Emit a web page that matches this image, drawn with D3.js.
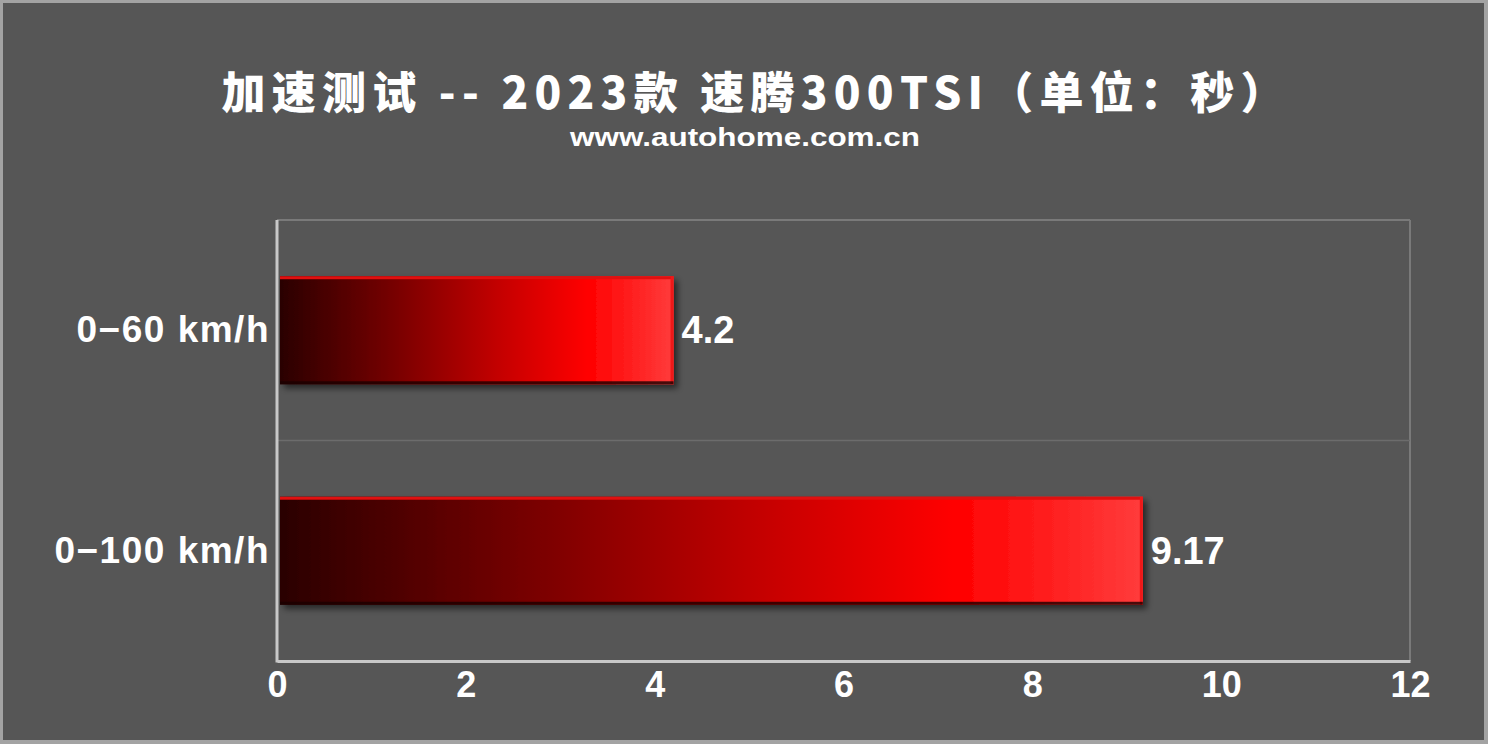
<!DOCTYPE html>
<html><head><meta charset="utf-8">
<script src="https://cdn.jsdelivr.net/npm/d3@7"></script>
<style>html,body{margin:0;padding:0;background:#a3a3a3;}svg{display:block;}</style>
</head><body>
<script>
const categories = ["0−60 km/h", "0−100 km/h"];
const values = [4.2, 9.17];
const valueLabels = ["4.2", "9.17"];
const xTicks = [0, 2, 4, 6, 8, 10, 12];
const titleText = "加速测试 -- 2023款 速腾300TSI（单位：秒）";
const subtitleText = "www.autohome.com.cn";

const W = 1488, H = 744;
const svg = d3.select("body").append("svg").attr("width", W).attr("height", H);
const defs = svg.append("defs");
const grad = defs.append("linearGradient").attr("id", "barGrad").attr("x1", "0").attr("x2", "1").attr("y1", "0").attr("y2", "0");
[[0, "#2a0000"], [0.3, "#7a0000"], [0.55, "#c20000"], [0.78, "#ff0000"], [1, "#ff3c3c"]]
  .forEach(([o, c]) => grad.append("stop").attr("offset", o).attr("stop-color", c));
const f = defs.append("filter").attr("id", "shadow").attr("x", "-5%").attr("y", "-20%").attr("width", "115%").attr("height", "150%");
f.append("feDropShadow").attr("dx", 4).attr("dy", 4).attr("stdDeviation", 3).attr("flood-color", "#000").attr("flood-opacity", 0.55);

const FONT = "Liberation Sans, Arial, sans-serif";

// outer frame
svg.append("rect").attr("x", 0).attr("y", 0).attr("width", W).attr("height", H).attr("fill", "#a3a3a3");
svg.append("rect").attr("x", 3).attr("y", 3).attr("width", W - 7).attr("height", H - 7).attr("fill", "#565656");

const pLeft = 277, pRight = 1410, pTop = 220, pBottom = 661;
const x = d3.scaleLinear().domain([0, 12]).range([pLeft, pRight]);
const y = d3.scaleBand().domain(categories).range([pTop, pBottom]).paddingInner(0.51).paddingOuter(0.255);

// grid
const g = svg.append("g");
g.append("line").attr("x1", pLeft).attr("x2", pRight).attr("y1", pTop).attr("y2", pTop).attr("stroke", "#7a7a7a").attr("stroke-width", 2);
g.append("line").attr("x1", pRight).attr("x2", pRight).attr("y1", pTop).attr("y2", pBottom).attr("stroke", "#7a7a7a").attr("stroke-width", 2);
categories.slice(1).forEach((c, i) => {
  const yy = (y(categories[i]) + y.bandwidth() + y(c)) / 2;
  g.append("line").attr("x1", pLeft).attr("x2", pRight).attr("y1", yy).attr("y2", yy).attr("stroke", "#6c6c6c").attr("stroke-width", 1.5);
});

// bars
const bars = svg.append("g");
categories.forEach((c, i) => {
  bars.append("rect")
    .attr("x", x(0) + 3).attr("y", y(c))
    .attr("width", x(values[i]) - x(0) - 3).attr("height", y.bandwidth())
    .attr("fill", "url(#barGrad)")
    .attr("filter", "url(#shadow)");
  bars.append("rect").attr("x", x(0) + 3).attr("y", y(c)).attr("width", x(values[i]) - x(0) - 3).attr("height", 3).attr("fill", "#e01010");
  bars.append("rect").attr("x", x(values[i]) - 3).attr("y", y(c)).attr("width", 3).attr("height", y.bandwidth()).attr("fill", "#ee1818");
  bars.append("rect").attr("x", x(0) + 3).attr("y", y(c) + y.bandwidth() - 3).attr("width", x(values[i]) - x(0) - 3).attr("height", 3).attr("fill", "#1a0000").attr("opacity", 0.8);
  svg.append("text").attr("x", x(values[i]) + 8).attr("y", y(c) + y.bandwidth() / 2 + 13)
    .attr("fill", "#fff").attr("font-family", FONT).attr("font-weight", "bold").attr("font-size", 38)
    .text(valueLabels[i]);
  svg.append("text").attr("x", 270).attr("y", y(c) + y.bandwidth() / 2 + 12)
    .attr("text-anchor", "end")
    .attr("fill", "#fff").attr("font-family", FONT).attr("font-weight", "bold").attr("font-size", 37)
    .attr("letter-spacing", 1.5)
    .text(c);
});

// axes
const xAxis = d3.axisBottom(x).tickValues(xTicks).tickSize(0).tickPadding(10);
const ax = svg.append("g").attr("transform", `translate(0,${pBottom})`).call(xAxis);
ax.select(".domain").attr("stroke", "#c8c8c8").attr("stroke-width", 3);
ax.selectAll("text").attr("fill", "#fff").attr("font-family", FONT).attr("font-weight", "bold").attr("font-size", 36);
svg.append("line").attr("x1", pLeft).attr("x2", pLeft).attr("y1", pTop).attr("y2", pBottom + 1.5).attr("stroke", "#c8c8c8").attr("stroke-width", 3);

// titles
svg.append("text").attr("x", 753).attr("y", 109).attr("text-anchor", "middle")
  .attr("fill", "#fff").attr("font-family", "Noto Sans CJK SC, sans-serif").attr("font-weight", 900).attr("font-size", 44)
  .attr("textLength", 1063).attr("lengthAdjust", "spacing")
  .text(titleText);
svg.append("text").attr("x", 745).attr("y", 146).attr("text-anchor", "middle")
  .attr("fill", "#fff").attr("font-family", FONT).attr("font-weight", "bold").attr("font-size", 26)
  .attr("textLength", 350).attr("lengthAdjust", "spacingAndGlyphs")
  .text(subtitleText);
</script>
</body></html>
